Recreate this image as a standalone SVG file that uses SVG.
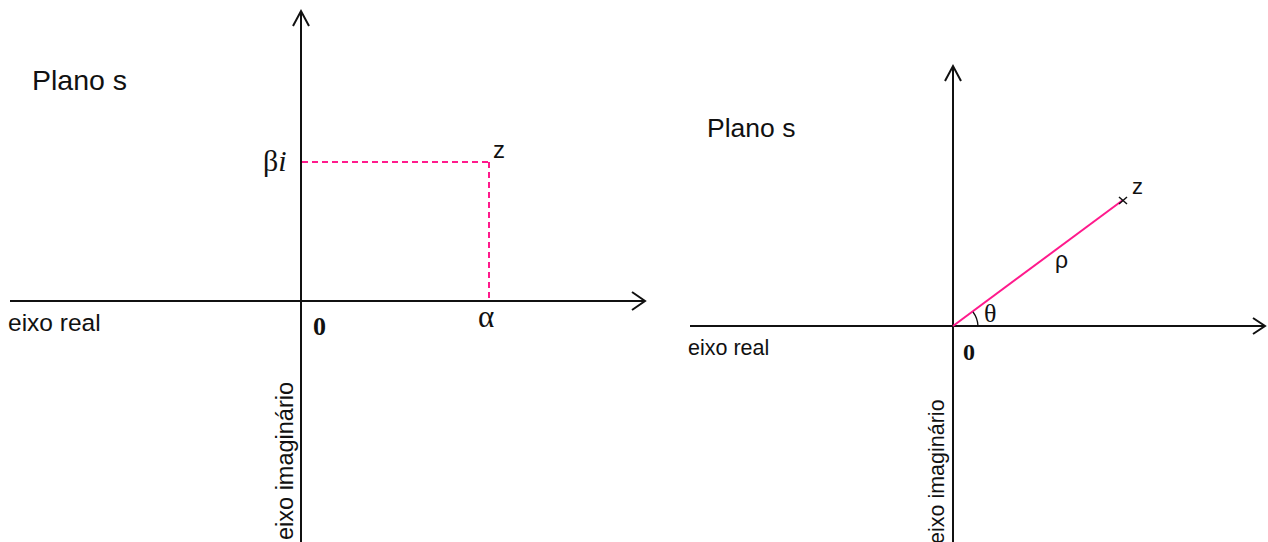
<svg xmlns="http://www.w3.org/2000/svg" width="1268" height="542" viewBox="0 0 1268 542">
<style>
.ax{stroke:#111;stroke-width:2;fill:none}
.ah{stroke:#111;stroke-width:2;fill:none;stroke-linejoin:miter}
.pk{stroke:#ff1a8c;stroke-width:2;fill:none}
.dash{stroke-dasharray:6 4}
.sans{font-family:"Liberation Sans",Arial,sans-serif;fill:#111}
.serif{font-family:"Liberation Serif","Times New Roman",serif;fill:#111}
</style>
<rect width="1268" height="542" fill="#fff"/>
<g id="left-plane">
  <g id="left-axes">
    <line class="ax" x1="10" y1="301" x2="645" y2="301"/>
    <polyline class="ah" points="632,292 645,301 632,310"/>
    <line class="ax" x1="301" y1="542" x2="301" y2="11"/>
    <polyline class="ah" points="293,26 301,11 309,26"/>
  </g>
  <g id="left-connectors">
    <line class="pk dash" x1="302" y1="162" x2="489" y2="162"/>
    <line class="pk dash" x1="489" y1="162" x2="489" y2="300"/>
  </g>
  <text class="sans" x="32" y="90" font-size="28.5">Plano s</text>
  <text class="sans" x="8" y="331" font-size="24.5">eixo real</text>
  <text class="sans" font-size="23.5" transform="translate(293,540) rotate(-90)">eixo imaginário</text>
  <text class="serif" x="263" y="171" font-size="30">β<tspan font-style="italic">i</tspan></text>
  <text class="sans" x="493" y="158" font-size="24">z</text>
  <text class="serif" x="478" y="327" font-size="31">α</text>
  <text class="serif" x="313" y="335" font-size="26" font-weight="bold">0</text>
</g>
<g id="right-plane">
  <g id="right-axes">
    <line class="ax" x1="690" y1="326" x2="1265" y2="326"/>
    <polyline class="ah" points="1253,318 1265,326 1253,334"/>
    <line class="ax" x1="953" y1="542" x2="953" y2="66"/>
    <polyline class="ah" points="945,81 953,66 961,81"/>
  </g>
  <g id="right-connectors">
    <line class="pk" x1="953" y1="326" x2="1123" y2="200"/>
    <path d="M1119,197 L1127,204 M1119,204 L1127,197" stroke="#111" stroke-width="1.5"/>
    <path d="M973,312 A25,25 0 0 1 978,326" stroke="#111" stroke-width="1.3" fill="none"/>
  </g>
  <text class="sans" x="707" y="137" font-size="26.5">Plano s</text>
  <text class="sans" x="688" y="355" font-size="21.5">eixo real</text>
  <text class="sans" font-size="21.5" transform="translate(944,544) rotate(-90)">eixo imaginário</text>
  <text class="sans" x="1132" y="194" font-size="22">z</text>
  <text class="sans" x="1055" y="268" font-size="23">ρ</text>
  <text class="serif" x="984" y="322" font-size="26">θ</text>
  <text class="serif" x="963" y="360" font-size="24" font-weight="bold">0</text>
</g>
</svg>
